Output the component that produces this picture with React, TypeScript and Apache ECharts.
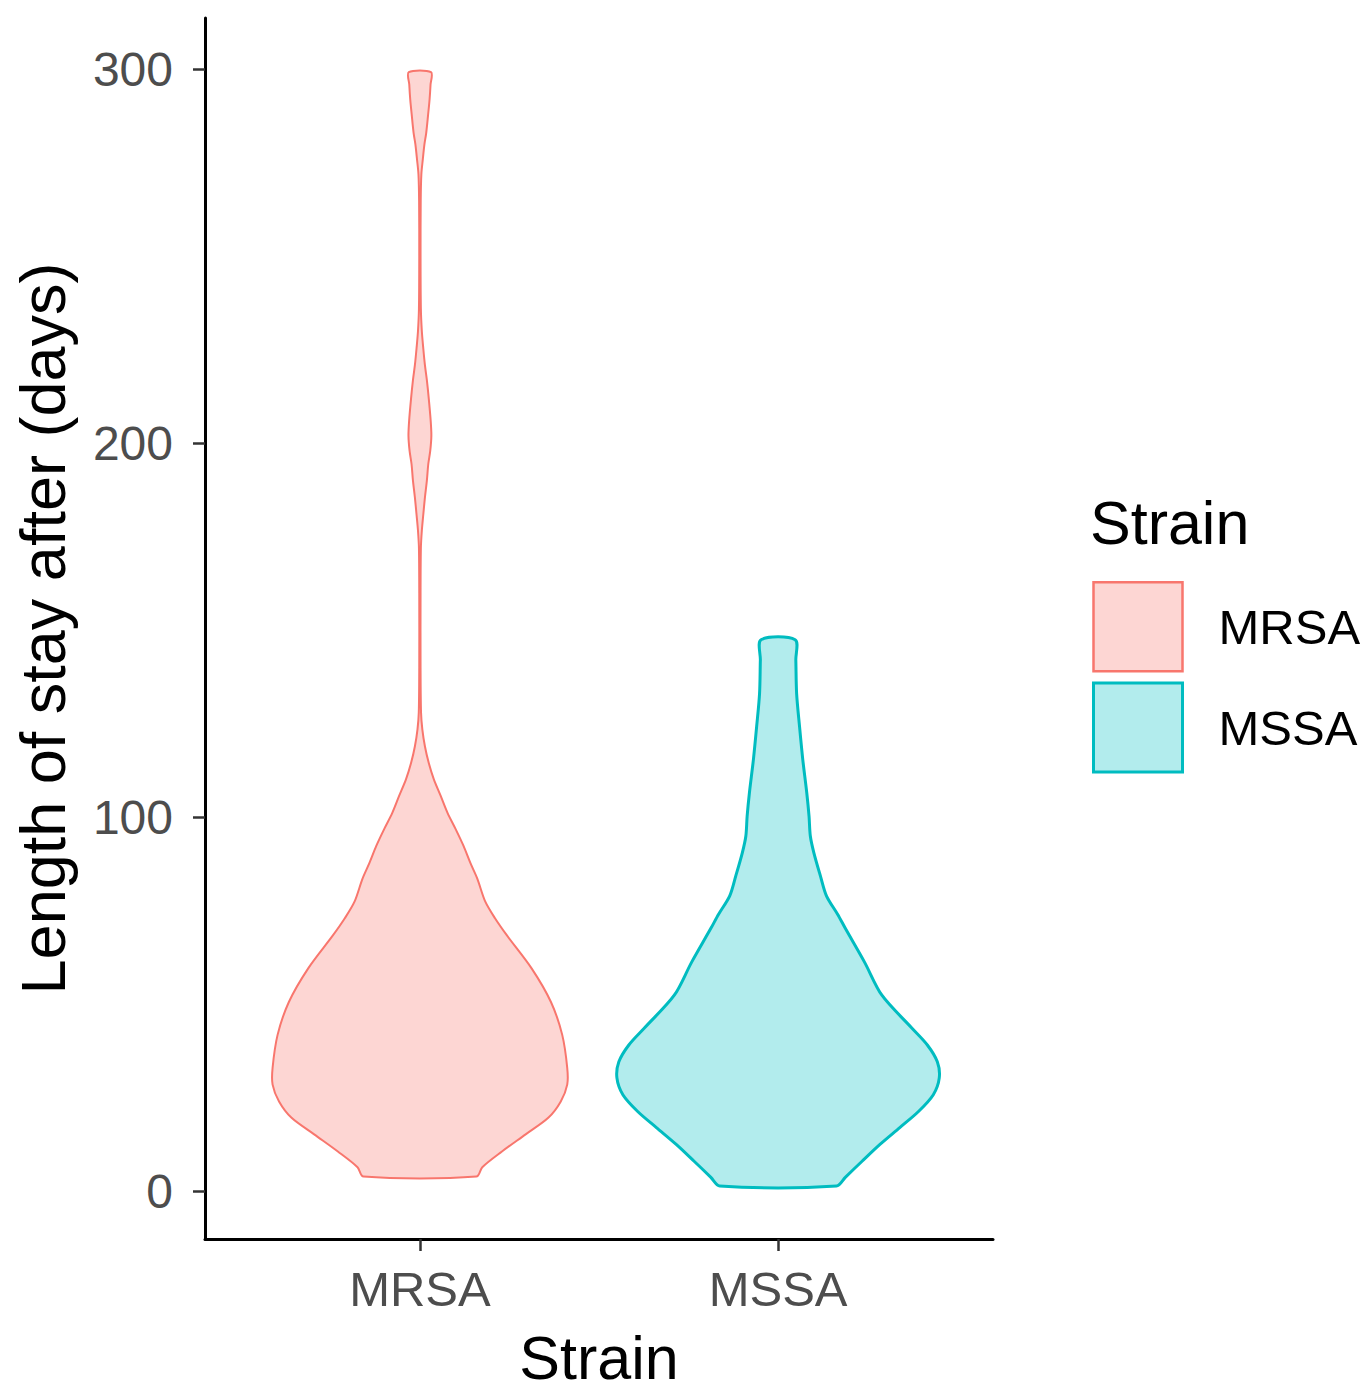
import React, { useEffect, useRef } from "react";
import * as echarts from "echarts";

// ---- data ----
const categories = ["MRSA", "MSSA"];
const yTickValues = [0, 100, 200, 300];

// MRSA: length of stay (days) and relative density (1 = widest violin overall)
const mrsaDays = [
  3.9, 6.4, 10.6, 15.2, 19.7, 24.0, 28.5, 33.0, 41.8, 50.6, 59.6, 68.4, 73, 77.5,
  83.6, 87.8, 92.4, 96.9, 101.1, 105.7, 110.2, 114.5, 119, 123.5, 128, 140, 160,
  172, 176.7, 181, 185.5, 190, 194.5, 198, 202, 206, 212, 217, 221, 225.4, 230,
  236, 250, 265, 272, 276, 280, 283, 288, 292, 296, 299.3,
];
const mrsaDensity = [
  0.35, 0.387, 0.509, 0.656, 0.798, 0.874, 0.914, 0.914, 0.883, 0.813, 0.693,
  0.54, 0.466, 0.405, 0.356, 0.313, 0.27, 0.221, 0.172, 0.129, 0.086, 0.055,
  0.031, 0.015, 0.007, 0.004, 0.004, 0.006, 0.012, 0.021, 0.031, 0.043, 0.052,
  0.064, 0.071, 0.067, 0.055, 0.043, 0.031, 0.021, 0.012, 0.006, 0.004, 0.005,
  0.009, 0.018, 0.028, 0.039, 0.051, 0.06, 0.066, 0.069,
];

// MSSA
const mssaDays = [
  1.4, 3.7, 8, 12.5, 17, 21.3, 25.8, 30.3, 34.6, 39.1, 43.7, 52.4, 61.2, 70.3,
  74, 79, 84.4, 90.5, 95, 100.3, 106.5, 115.5, 124.3, 133.1, 142.1, 147.5,
];
const mssaDensity = [
  0.362, 0.417, 0.521, 0.632, 0.755, 0.871, 0.963, 1.0, 0.988, 0.926, 0.828,
  0.644, 0.537, 0.417, 0.37, 0.3, 0.262, 0.222, 0.2, 0.192, 0.178, 0.153, 0.133,
  0.115, 0.11, 0.106,
];

const FONT = '"Liberation Sans", Arial, Helvetica, sans-serif';
const HALF_MAX = 0.45; // violin width 0.9 of a category slot

const MRSA_LINE = "#F8766D";
const MRSA_FILL = "rgba(248,118,109,0.3)";
const MSSA_LINE = "#00BCC0";
const MSSA_FILL = "rgba(0,191,196,0.3)";

function violinRenderer(
  days: number[],
  density: number[],
  stroke: string,
  fill: string,
  lw: number
) {
  return (_params: any, api: any) => {
    const pos = api.value(0);
    const pts: number[][] = [];
    for (let k = 0; k < days.length; k++) {
      pts.push(api.coord([pos + density[k] * HALF_MAX, days[k]]));
    }
    for (let k = days.length - 1; k >= 0; k--) {
      pts.push(api.coord([pos - density[k] * HALF_MAX, days[k]]));
    }
    return {
      type: "polygon",
      shape: { points: pts, smooth: 0.3 },
      style: { fill, stroke, lineWidth: lw, lineJoin: "round" },
    };
  };
}

export default function App() {
  const ref = useRef<HTMLDivElement>(null);

  useEffect(() => {
    if (!ref.current) return;
    const chart = echarts.init(ref.current, undefined, { renderer: "svg" });
    const option: any = {
      animation: false,
      backgroundColor: "#ffffff",
      grid: { left: 205, top: 18, right: 379, bottom: 134, containLabel: false },
      xAxis: {
        type: "value",
        min: 0.4,
        max: 2.6,
        name: "Strain",
        nameLocation: "middle",
        nameGap: 88,
        nameTextStyle: { fontSize: 61, fontFamily: FONT, color: "#000000" },
        axisLine: { show: true, onZero: false, lineStyle: { color: "#000000", width: 3 } },
        axisTick: {
          show: true,
          customValues: [1, 2],
          length: 12,
          lineStyle: { color: "#333333", width: 2.5 },
        },
        axisLabel: {
          show: true,
          customValues: [1, 2],
          formatter: (v: number) => categories[Math.round(v) - 1] ?? "",
          fontSize: 49,
          fontFamily: FONT,
          color: "#4D4D4D",
          margin: 25,
        },
        splitLine: { show: false },
      },
      yAxis: {
        type: "value",
        min: -12.8,
        max: 313.8,
        name: "Length of stay after (days)",
        nameLocation: "middle",
        nameRotate: 90,
        nameGap: 131,
        nameTextStyle: { fontSize: 63, fontFamily: FONT, color: "#000000" },
        axisLine: { show: true, onZero: false, lineStyle: { color: "#000000", width: 3 } },
        axisTick: {
          show: true,
          customValues: yTickValues,
          length: 12,
          lineStyle: { color: "#333333", width: 2.5 },
        },
        axisLabel: {
          show: true,
          customValues: yTickValues,
          fontSize: 48,
          fontFamily: FONT,
          color: "#4D4D4D",
          margin: 32,
        },
        splitLine: { show: false },
      },
      legend: {
        orient: "vertical",
        left: 1092,
        top: 581,
        padding: 0,
        itemWidth: 89,
        itemHeight: 89,
        itemGap: 9,
        icon: "rect",
        selectedMode: false,
        textStyle: {
          fontSize: 49,
          fontFamily: FONT,
          color: "#000000",
          padding: [0, 0, 0, 31],
        },
        data: [
          {
            name: "MRSA",
            itemStyle: { color: MRSA_FILL, borderColor: MRSA_LINE, borderWidth: 2.5 },
          },
          {
            name: "MSSA",
            itemStyle: { color: MSSA_FILL, borderColor: MSSA_LINE, borderWidth: 3 },
          },
        ],
      },
      graphic: [
        {
          type: "text",
          left: 1090,
          top: 492,
          style: {
            text: "Strain",
            fontSize: 61,
            fontFamily: FONT,
            fill: "#000000",
          },
        },
      ],
      series: [
        {
          type: "custom",
          name: "MRSA",
          coordinateSystem: "cartesian2d",
          data: [[1, 0]],
          encode: { x: 0, y: 1 },
          itemStyle: { color: MRSA_FILL, borderColor: MRSA_LINE },
          renderItem: violinRenderer(mrsaDays, mrsaDensity, MRSA_LINE, MRSA_FILL, 2),
          silent: true,
        },
        {
          type: "custom",
          name: "MSSA",
          coordinateSystem: "cartesian2d",
          data: [[2, 0]],
          encode: { x: 0, y: 1 },
          itemStyle: { color: MSSA_FILL, borderColor: MSSA_LINE },
          renderItem: violinRenderer(mssaDays, mssaDensity, MSSA_LINE, MSSA_FILL, 3),
          silent: true,
        },
      ],
    };
    chart.setOption(option);
    return () => {
      chart.dispose();
    };
  }, []);

  return (
    <div
      ref={ref}
      style={{
        position: "absolute",
        left: 0,
        top: 0,
        width: 1372,
        height: 1393,
        background: "#ffffff",
      }}
    />
  );
}
